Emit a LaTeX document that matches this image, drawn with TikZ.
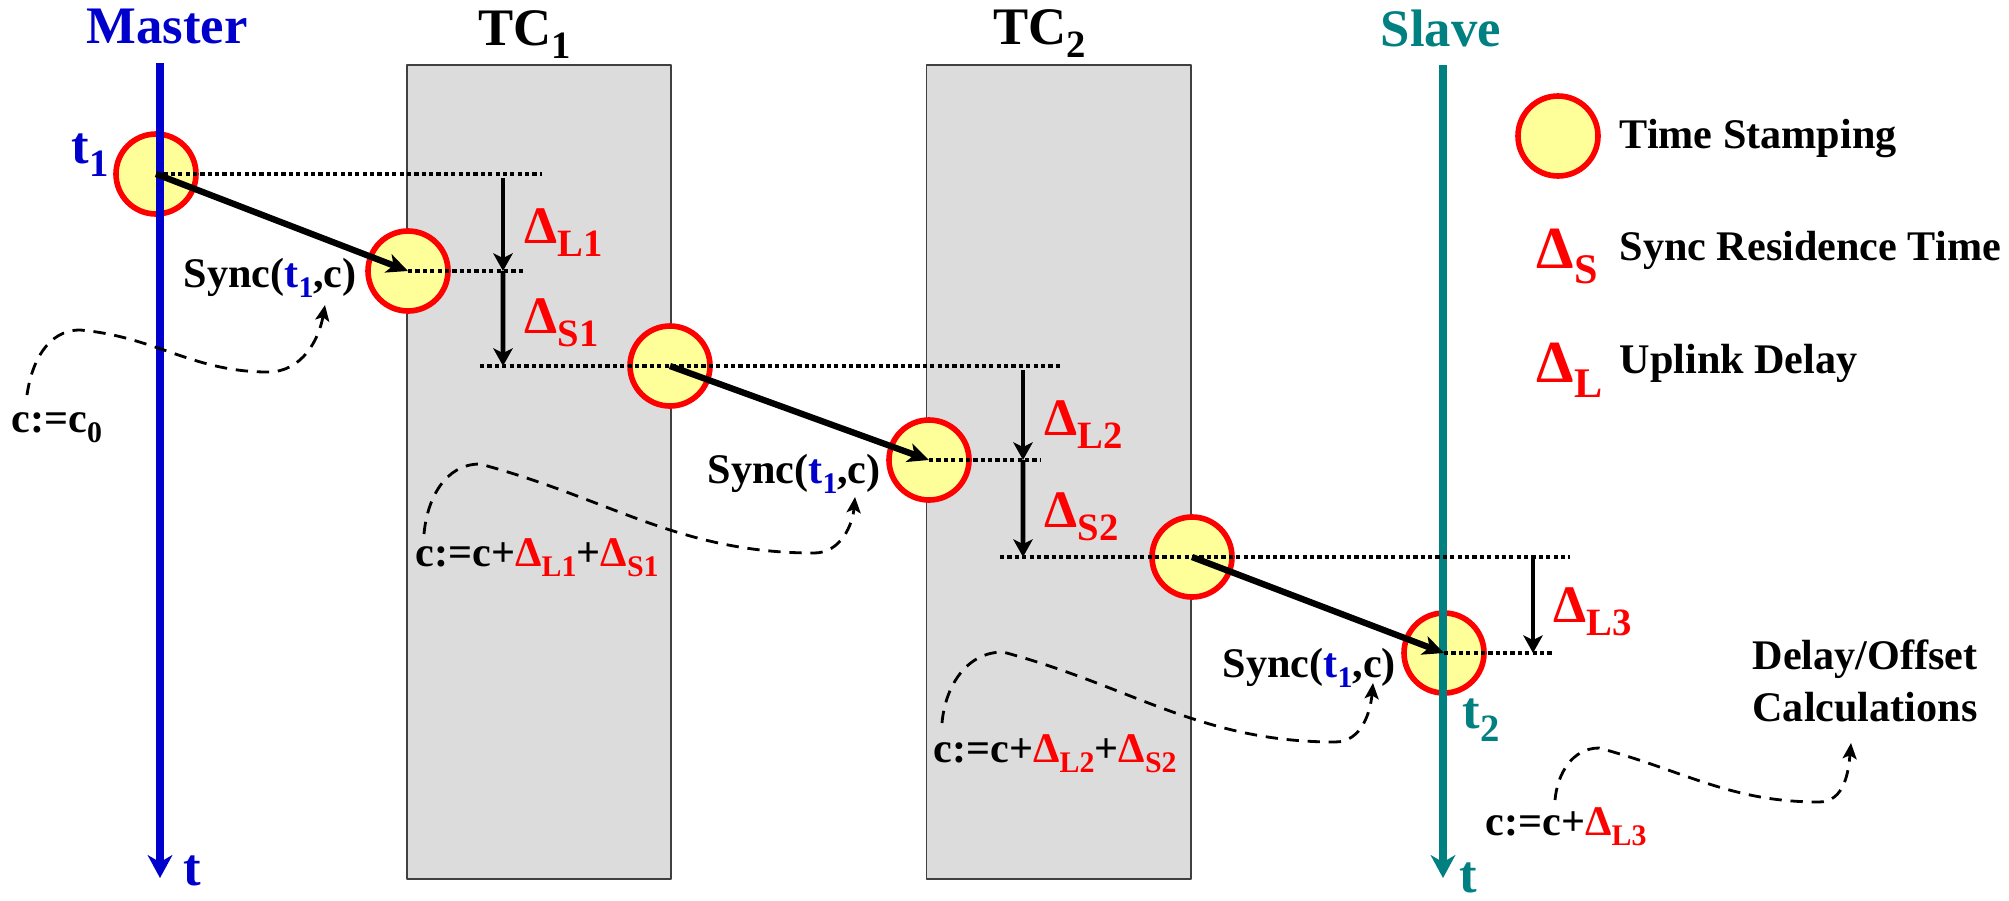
\documentclass[tikz,border=0pt]{standalone}
\usepackage{fontspec}
\setmainfont{Liberation Serif}
\usetikzlibrary{arrows.meta}
\definecolor{masterblue}{RGB}{0,0,204}
\definecolor{slaveteal}{RGB}{0,128,128}
\definecolor{stampyellow}{RGB}{255,255,153}
\definecolor{tcgray}{RGB}{220,220,220}
\newcommand{\dsub}[2][11]{\raisebox{-0.26em}{\fontsize{#1}{#1}\selectfont #2}}
\begin{document}
\begin{tikzpicture}[font=\bfseries\fontsize{12}{14}\selectfont, line join=round,
	stamp/.style={circle,draw=red,line width=1.6pt,fill=stampyellow,minimum size=8mm,inner sep=0pt},
	txt/.style={inner sep=0pt,anchor=base west},
	headtxt/.style={inner sep=0pt,anchor=base,font=\bfseries\fontsize{15}{18}\selectfont},
	dlab/.style={inner sep=0pt,anchor=base west,text=red,font=\bfseries\fontsize{15}{18}\selectfont},
	tcbox/.style={fill=tcgray,draw=black!75,line width=0.5pt},
	timeline/.style={line width=2.2pt,-{Stealth[length=6.5pt,width=7pt,inset=2pt]}},
	dots/.style={line width=1.2pt,dash pattern=on 1.2pt off 0.9pt},
	sync/.style={line width=1.8pt,-{Stealth[length=6pt,width=5.5pt,inset=1.6pt]}},
	dly/.style={line width=1.3pt,-{Stealth[length=5pt,width=5.5pt,inset=1.3pt]}},
	note/.style={line width=0.8pt,dash pattern=on 3.5pt off 2.5pt,-{Stealth[length=4.5pt,width=4pt,inset=1pt]}}]
	%% khung hinh
	\useasboundingbox (0,0) rectangle (20.09,-9);
	%% hai transparent clock
	\draw[tcbox] (4.07,-0.65) rectangle (6.71,-8.79);
	\draw[tcbox] (9.265,-0.65) rectangle (11.91,-8.79);
	\node[headtxt,text=masterblue] (master) at (1.67,-0.43) {Master};
	\node[headtxt,anchor=base west] (tc1) at (4.78,-0.45) {TC\dsub{1}};
	\node[headtxt,anchor=base west] (tc2) at (9.93,-0.44) {TC\dsub{2}};
	\node[headtxt,text=slaveteal] (slave) at (14.41,-0.46) {Slave};
	%% time stamps
	\node[stamp] (s1) at (1.56,-1.74) {};
	\node[stamp] (s2) at (4.08,-2.71) {};
	\node[stamp] (s3) at (6.70,-3.66) {};
	\node[stamp] (s4) at (9.29,-4.60) {};
	\node[stamp] (s5) at (11.92,-5.57) {};
	\node[stamp] (s6) at (14.44,-6.53) {};
	%% truc thoi gian
	\coordinate (mtop) at (1.60,-0.63);
	\coordinate (mbot) at (1.60,-8.78);
	\coordinate (sltop) at (14.43,-0.65);
	\coordinate (slbot) at (14.43,-8.78);
	\draw[timeline,masterblue] (mtop) -- (mbot);
	\draw[timeline,slaveteal] (sltop) -- (slbot);
	\node[headtxt,anchor=base west,text=masterblue] (tm) at (1.83,-8.85) {t};
	\node[headtxt,anchor=base west,text=slaveteal] (ts) at (14.59,-8.92) {t};
	\node[headtxt,anchor=base west,text=masterblue] (t1) at (0.71,-1.63) {t\dsub{1}};
	\node[headtxt,anchor=base west,text=slaveteal] (t2) at (14.62,-7.28) {t\dsub{2}};
	%% cac muc thoi gian
	\draw[dots] (s1.center) -- ++(3.86,0);
	\draw[dots] (s2.center) -- ++(1.15,0);
	\draw[dots] ([xshift=-1.90cm]s3.center) -- ([xshift=3.92cm]s3.center);
	\draw[dots] (s4.center) -- ++(1.12,0);
	\draw[dots] ([xshift=-1.92cm]s5.center) -- ([xshift=3.78cm]s5.center);
	\draw[dots] (s6.center) -- ++(1.08,0);
	%% do tre
	\draw[dly] ([xshift=0.95cm,yshift=0.93cm]s2.center) -- ([xshift=0.95cm]s2.center);
	\draw[dly] ([xshift=0.95cm]s2.center) -- ([xshift=-1.67cm]s3.center);
	\draw[dly] ([xshift=0.94cm,yshift=0.90cm]s4.center) -- ([xshift=0.94cm]s4.center);
	\draw[dly] ([xshift=0.94cm]s4.center) -- ([xshift=-1.69cm]s5.center);
	\draw[dly] ([xshift=0.89cm,yshift=0.95cm]s6.center) -- ([xshift=0.89cm]s6.center);
	\node[dlab] (dl1) at (5.24,-2.43) {Δ\dsub{L1}};
	\node[dlab] (ds1) at (5.24,-3.33) {Δ\dsub{S1}};
	\node[dlab] (dl2) at (10.44,-4.35) {Δ\dsub{L2}};
	\node[dlab] (ds2) at (10.44,-5.27) {Δ\dsub{S2}};
	\node[dlab] (dl3) at (15.53,-6.22) {Δ\dsub{L3}};
	%% ban tin Sync
	\draw[sync] (s1.center) -- (s2.center);
	\draw[sync] (s3.center) -- (s4.center);
	\draw[sync] (s5.center) -- (s6.center);
	\node[txt] (sync1) at (1.83,-2.87) {Sync(\textcolor{masterblue}{t\dsub[8.5]{1}},c)};
	\node[txt] (sync2) at (7.07,-4.83) {Sync(\textcolor{masterblue}{t\dsub[8.5]{1}},c)};
	\node[txt] (sync3) at (12.22,-6.77) {Sync(\textcolor{masterblue}{t\dsub[8.5]{1}},c)};
	%% hieu chinh c
	\node[txt] (cc0) at (0.11,-4.32) {c:=c\dsub[8.5]{0}};
	\node[txt] (cc1) at (4.15,-5.66) {c:=c+\textcolor{red}{Δ\dsub[8.5]{L1}}+\textcolor{red}{Δ\dsub[8.5]{S1}}};
	\node[txt] (cc2) at (9.33,-7.62) {c:=c+\textcolor{red}{Δ\dsub[8.5]{L2}}+\textcolor{red}{Δ\dsub[8.5]{S2}}};
	\node[txt] (cc3) at (14.85,-8.35) {c:=c+\textcolor{red}{Δ\dsub[8.5]{L3}}};
	\node[inner sep=0pt,anchor=north,align=center,font=\bfseries\fontsize{12}{14.8}\selectfont] (calc) at (18.65,-6.39) {Delay/Offset\\Calculations};
	\coordinate (w1a) at (0.27,-3.95);
	\coordinate (w1b) at (3.25,-3.05);
	\coordinate (w2a) at (4.24,-5.34);
	\coordinate (w2b) at (8.55,-4.97);
	\coordinate (w3a) at (9.42,-7.23);
	\coordinate (w3b) at (13.73,-6.83);
	\coordinate (w4a) at (15.55,-8.00);
	\coordinate (w4b) at (18.51,-7.43);
	\draw[note] (w1a) to[out=82,in=180] (0.80,-3.30) to[out=-5,in=180] (2.68,-3.72) to[out=0,in=-100] (w1b);
	\draw[note] (w2a) to[out=85,in=180] (4.80,-4.64) to[out=-15,in=180] (8.14,-5.53) to[out=0,in=-95] (w2b);
	\draw[note] (w3a) to[out=85,in=180] (10.03,-6.52) to[out=-15,in=180] (13.35,-7.42) to[out=0,in=-95] (w3b);
	\draw[note] (w4a) to[out=85,in=180] (15.99,-7.48) to[out=-15,in=180] (18.19,-8.02) to[out=0,in=-95] (w4b);
	%% chu thich
	\node[stamp] (leg) at (15.58,-1.36) {};
	\node[txt] (legts) at (16.19,-1.48) {Time Stamping};
	\node[dlab,font=\bfseries\fontsize{17}{20}\selectfont] (legs) at (15.36,-2.68) {Δ\dsub[12]{S}};
	\node[txt] (legsr) at (16.19,-2.60) {Sync Residence Time};
	\node[dlab,font=\bfseries\fontsize{17}{20}\selectfont] (legl) at (15.36,-3.82) {Δ\dsub[12]{L}};
	\node[txt] (legul) at (16.19,-3.73) {Uplink Delay};
\end{tikzpicture}
\end{document}
